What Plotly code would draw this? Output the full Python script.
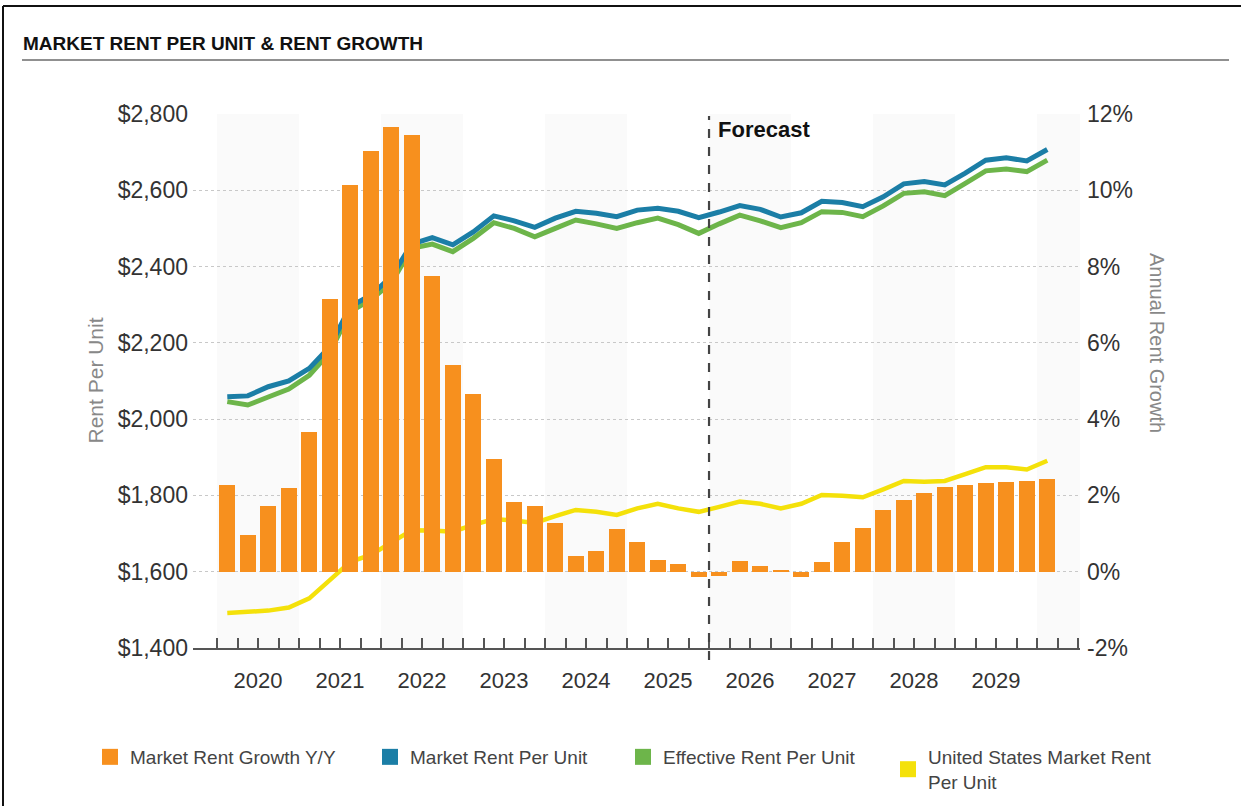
import plotly.graph_objects as go

# ---------------- data ----------------
years = list(range(2020, 2031))
quarters = [f"{y} Q{q}" for y in range(2020, 2031) for q in range(1, 5)][:41]  # 2020 Q1 .. 2030 Q1

rent_growth = [2.27, 0.96, 1.72, 2.20,
               3.65, 7.16, 10.14, 11.03,
               11.66, 11.44, 7.76, 5.42,
               4.66, 2.96, 1.83, 1.72,
               1.29, 0.40, 0.55, 1.11,
               0.78, 0.30, 0.21, -0.15,
               -0.10, 0.28, 0.15, 0.05,
               -0.15, 0.26, 0.77, 1.14,
               1.61, 1.87, 2.06, 2.21,
               2.28, 2.33, 2.35, 2.37,
               2.42]

market_rent = [2059, 2061, 2085, 2100,
               2133, 2190, 2295, 2325,
               2373, 2459, 2476, 2457,
               2491, 2533, 2520, 2503,
               2527, 2545, 2540, 2531,
               2548, 2553, 2545, 2528,
               2543, 2560, 2550, 2530,
               2541, 2571, 2568, 2557,
               2583, 2617, 2623, 2614,
               2645, 2679, 2685, 2677,
               2707]

effective_rent = [2046, 2037, 2058, 2079,
                  2115, 2175, 2282, 2313,
                  2357, 2448, 2459, 2439,
                  2474, 2515, 2500, 2478,
                  2500, 2522, 2512, 2500,
                  2515, 2527, 2510, 2487,
                  2512, 2535, 2520, 2502,
                  2515, 2544, 2542, 2531,
                  2559, 2592, 2596, 2586,
                  2618, 2651, 2656, 2649,
                  2679]

us_market_rent = [1492, 1494, 1498, 1506,
                  1530, 1578, 1626, 1644,
                  1675, 1709, 1708, 1705,
                  1723, 1738, 1734, 1728,
                  1746, 1762, 1757, 1749,
                  1766, 1778, 1766, 1757,
                  1770, 1784, 1778, 1766,
                  1778, 1801, 1799, 1795,
                  1816, 1838, 1836, 1838,
                  1856, 1874, 1874, 1868,
                  1891]

year_labels = [str(y) for y in range(2020, 2030)]
forecast_start = 2026.0
left_ticks = [1400, 1600, 1800, 2000, 2200, 2400, 2600, 2800]
right_ticks = [-2, 0, 2, 4, 6, 8, 10, 12]
right_labels = ["-2%", "0%", "2%", "4%", "6%", "8%", "10%", "12%"]

series_names = ["Market Rent Growth Y/Y", "Market Rent Per Unit",
                "Effective Rent Per Unit", "United States Market Rent<br>Per Unit"]

# quarter -> numeric position (centre of the quarter)
def qpos(label):
    y, q = label.split(" Q")
    return int(y) + (int(q) - 0.5) / 4

xq = [qpos(q) for q in quarters]

# ---------------- styling ----------------
C_BAR = "#F7901E"
C_BLUE = "#1B7EA6"
C_GREEN = "#6DB54A"
C_YELLOW = "#F4E10A"
series_colors = [C_BAR, C_BLUE, C_GREEN, C_YELLOW]
AX = "#555555"
REG = "Liberation Sans, Arial, sans-serif"

L, R, T, B = 193, 1080, 114, 648
W, H = R - L, B - T
def px(x):
    return (x - L) / W
def py(y):
    return (B - y) / H

XMIN, XMAX = 2019.707, 2030.524

fig = go.Figure()

fig.add_trace(go.Bar(x=xq, y=rent_growth, yaxis="y2", width=0.195,
                     marker=dict(color=C_BAR, line=dict(width=0)),
                     name=series_names[0], showlegend=False))
fig.add_trace(go.Scatter(x=xq, y=effective_rent, mode="lines", name=series_names[2],
                         line=dict(color=C_GREEN, width=5), showlegend=False))
fig.add_trace(go.Scatter(x=xq, y=market_rent, mode="lines", name=series_names[1],
                         line=dict(color=C_BLUE, width=5), showlegend=False))
fig.add_trace(go.Scatter(x=xq, y=us_market_rent, mode="lines", name=series_names[3],
                         line=dict(color=C_YELLOW, width=4.5), showlegend=False))

# legend swatches (square, like the original), one legend box per entry
legend_left = [90, 370, 623, 888]
legend_ids = ["legend", "legend2", "legend3", "legend4"]
for nm, col, lid in zip(series_names, series_colors, legend_ids):
    fig.add_trace(go.Scatter(x=[None], y=[None], mode="markers",
                             marker=dict(symbol="square", color=col, size=16),
                             name=nm, legend=lid, showlegend=True))

shapes = []
# alternate year bands
for y in years:
    if y % 2 == 0:
        shapes.append(dict(type="rect", xref="x", yref="paper", x0=y, x1=min(y + 1, XMAX),
                           y0=0, y1=1, fillcolor="#fafafa", line=dict(width=0), layer="below"))
# forecast divider
shapes.append(dict(type="line", xref="x", yref="paper", x0=forecast_start, x1=forecast_start,
                   y0=py(660), y1=py(116), line=dict(color="#444", width=2.2, dash="dash")))
# title underline
shapes.append(dict(type="line", xref="paper", yref="paper", x0=px(22), x1=px(1229),
                   y0=py(60), y1=py(60), line=dict(color="#222", width=1.2)))
# outer frame
shapes.append(dict(type="line", xref="paper", yref="paper", x0=px(3), x1=px(3),
                   y0=py(6), y1=py(820), line=dict(color="#111", width=2)))
shapes.append(dict(type="line", xref="paper", yref="paper", x0=px(3), x1=px(1250),
                   y0=py(6), y1=py(6), line=dict(color="#111", width=2)))

annotations = [
    dict(text="<b>MARKET RENT PER UNIT & RENT GROWTH</b>", xref="paper", yref="paper",
         x=px(21), y=py(43), xanchor="left", yanchor="middle", showarrow=False,
         font=dict(family=REG, size=19, color="#111")),
    dict(text="Rent Per Unit", xref="paper", yref="paper", x=px(81), y=py(381),
         textangle=-90, showarrow=False, font=dict(family=REG, size=21, color="#888")),
    dict(text="Annual Rent Growth", xref="paper", yref="paper", x=px(1170), y=py(343),
         textangle=90, showarrow=False, font=dict(family=REG, size=20, color="#888")),
    dict(text="<b>Forecast</b>", xref="x", yref="paper", x=forecast_start, y=py(130),
         xanchor="left", yanchor="middle", xshift=7, showarrow=False,
         font=dict(family=REG, size=22, color="#111")),
]

quarter_bounds = sorted(set([y + k / 4 for y in range(2020, 2031) for k in range(4)
                             if y + k / 4 <= 2030.5]))

legend_common = dict(orientation="h", yref="paper", y=py(738), xanchor="left", yanchor="top",
                     font=dict(family=REG, size=19, color="#444"), valign="middle",
                     bgcolor="rgba(0,0,0,0)", borderwidth=0)

layout_legends = {}
for lid, lx in zip(legend_ids, legend_left):
    layout_legends[lid] = dict(legend_common, x=px(lx))

fig.update_layout(
    width=1241, height=806,
    margin=dict(l=L, r=1241 - R, t=T, b=806 - B, autoexpand=False),
    paper_bgcolor="white", plot_bgcolor="white",
    font=dict(family=REG, color="#333"),
    bargap=0,
    shapes=shapes, annotations=annotations,
    showlegend=True,
    xaxis=dict(range=[XMIN, XMAX], tickmode="array",
               tickvals=[y + 0.5 for y in range(2020, 2030)], ticktext=year_labels,
               ticks="", showgrid=False, zeroline=False,
               showline=True, linecolor=AX, linewidth=2,
               tickfont=dict(family=REG, size=22, color="#333"),
               ticklabelstandoff=12,
               minor=dict(tickmode="array", tickvals=quarter_bounds, ticks="inside",
                          ticklen=10, tickwidth=1.5, tickcolor=AX, showgrid=False)),
    xaxis2=dict(range=[XMIN, XMAX], overlaying="x", anchor="y", side="bottom",
                tickmode="array", tickvals=years, showticklabels=False,
                ticks="outside", ticklen=12, tickwidth=2.5, tickcolor=AX,
                showgrid=False, zeroline=False, showline=False),
    yaxis=dict(range=[1400, 2800], tickmode="array", tickvals=left_ticks,
               tickformat="$,.0f", showgrid=True, gridcolor="#c8c8c8", griddash="dot",
               gridwidth=1, zeroline=False, showline=False, ticks="",
               tickfont=dict(family=REG, size=23, color="#333"), ticklabelstandoff=4),
    yaxis2=dict(range=[-2, 12], overlaying="y", side="right", tickmode="array",
                tickvals=right_ticks, ticktext=right_labels, showgrid=False, zeroline=False,
                showline=False, ticks="",
                tickfont=dict(family=REG, size=23, color="#333"), ticklabelstandoff=6),
    **layout_legends,
)

fig.write_html("out.html", config={"displayModeBar": False},
               post_script="document.body.style.margin='0px';")
